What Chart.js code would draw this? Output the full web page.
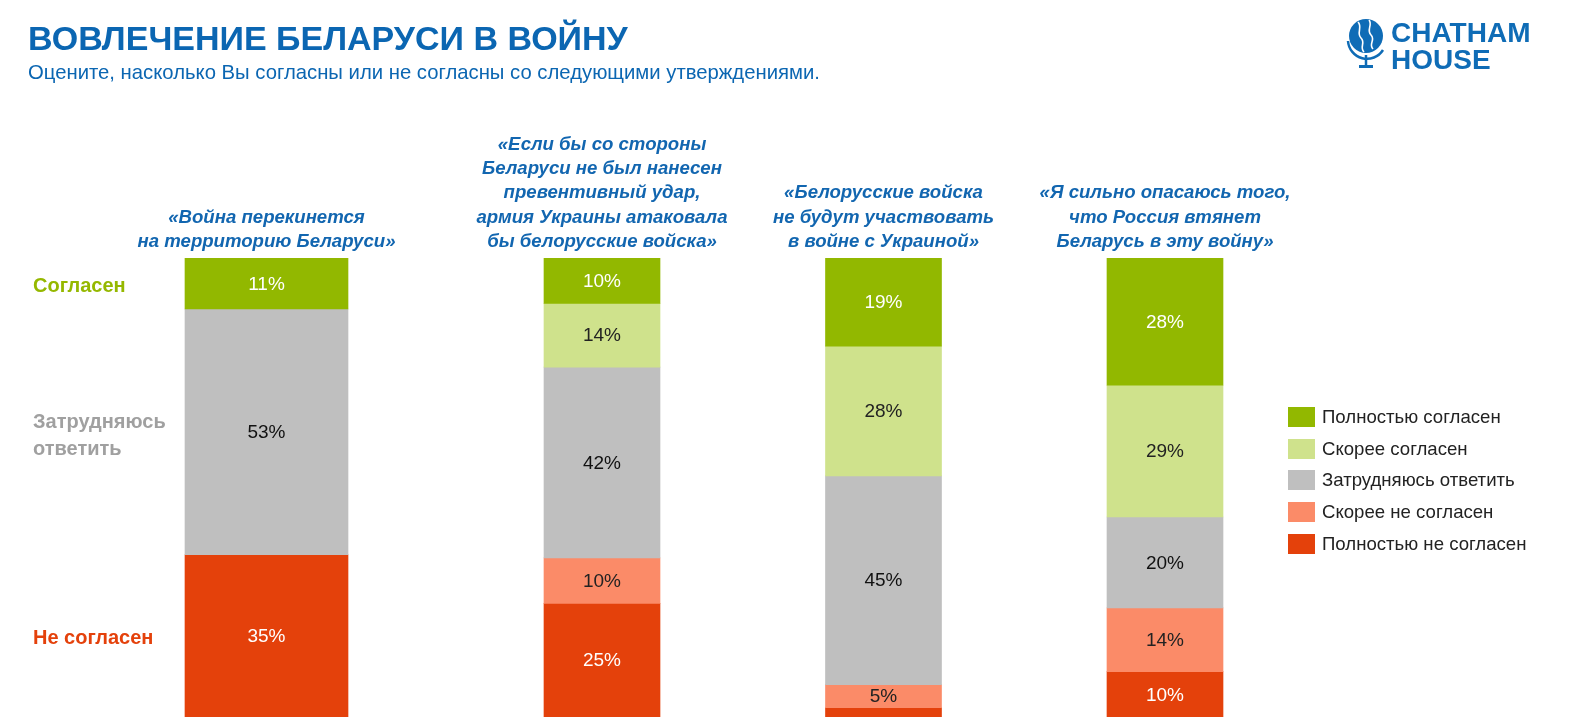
<!DOCTYPE html>
<html lang="ru">
<head>
<meta charset="utf-8">
<title>Вовлечение Беларуси в войну</title>
<script src="https://cdn.jsdelivr.net/npm/chart.js@4.4.1/dist/chart.umd.min.js"></script>
<style>
  html, body { margin: 0; padding: 0; background: #fff; }
  body { width: 1576px; height: 726px; position: relative; overflow: hidden; font-family: 'Liberation Sans', Arial, sans-serif; }
  #chart { position: absolute; left: 0; top: 0; }
  h1 { position: absolute; left: 28px; top: 21px; margin: 0; font-size: 34px; line-height: 1; font-weight: bold; color: #0b66b2; }
  .sub { position: absolute; left: 28px; top: 62px; font-size: 20.3px; line-height: 1; color: #0b66b2; }
  .side { position: absolute; left: 33px; font-weight: bold; font-size: 20px; line-height: 27px; }
  .logo { position: absolute; left: 1391px; top: 19px; font-weight: bold; font-size: 28px; line-height: 27px; color: #0f6cb6; }
  #legend { position: absolute; left: 1288px; top: 401px; }
  #legend div { height: 31.7px; display: flex; align-items: center; font-size: 18.6px; color: #222; }
  #legend i { width: 27px; height: 20px; margin-right: 7px; display: inline-block; }
</style>
</head>
<body>
<canvas id="chart" width="1576" height="726"></canvas>

<h1>ВОВЛЕЧЕНИЕ БЕЛАРУСИ В ВОЙНУ</h1>
<div class="sub">Оцените, насколько Вы согласны или не согласны со следующими утверждениями.</div>

<svg style="position:absolute;left:1344px;top:13px" width="46" height="58" viewBox="0 0 46 58">
  <circle cx="22" cy="23" r="17" fill="#0f6cb6"/>
  <path d="M14 9 C19 14 12 20 17 25 S15 34 20 39" stroke="#fff" stroke-width="1.6" fill="none"/>
  <path d="M25 7 C29 12 22 17 27 22 S24 31 29 36" stroke="#fff" stroke-width="1.6" fill="none"/>
  <path d="M4 28 A19 19 0 0 0 39 37" stroke="#0f6cb6" stroke-width="2.5" fill="none"/>
  <line x1="22" y1="42" x2="22" y2="52" stroke="#0f6cb6" stroke-width="2.5"/>
  <line x1="15" y1="53.5" x2="29" y2="53.5" stroke="#0f6cb6" stroke-width="3"/>
</svg>
<div class="logo">CHATHAM<br>HOUSE</div>

<div class="side" id="s0" style="top:272px"></div>
<div class="side" id="s1" style="top:408px;width:150px"></div>
<div class="side" id="s2" style="top:624px"></div>

<div id="legend"></div>

<script>
// --- data -------------------------------------------------------------
const questions = [
  ['«Война перекинется', 'на территорию Беларуси»'],
  ['«Если бы со стороны', 'Беларуси не был нанесен', 'превентивный удар,', 'армия Украины атаковала', 'бы белорусские войска»'],
  ['«Белорусские войска', 'не будут участвовать', 'в войне с Украиной»'],
  ['«Я сильно опасаюсь того,', 'что Россия втянет', 'Беларусь в эту войну»']
];

// first statement has only three answer groups
const q1Categories = ['Согласен', 'Затрудняюсь ответить', 'Не согласен'];
const q1Values = [11, 53, 35];

// statements 2-4, five-point scale
const seriesNames = ['Полностью согласен', 'Скорее согласен', 'Затрудняюсь ответить', 'Скорее не согласен', 'Полностью не согласен'];
const fullyAgree = [10, 19, 28];
const ratherAgree = [14, 28, 29];
const undecided = [42, 45, 20];
const ratherDisagree = [10, 5, 14];
const fullyDisagree = [25, 2, 10];

// --- layout / style ---------------------------------------------------
const FONT = "'Liberation Sans', Arial, sans-serif";
const BAR_X = [266.5, 602, 883.5, 1165];
const COL = { dkGreen: '#92b800', ltGreen: '#cfe28c', grey: '#bfbfbf', ltRed: '#fb8b68', dkRed: '#e4410b' };
const seriesColors = [COL.dkGreen, COL.ltGreen, COL.grey, COL.ltRed, COL.dkRed];
const seriesText = ['#fff', '#222', '#111', '#222', '#fff'];
const q1Colors = [COL.dkGreen, COL.grey, COL.dkRed];
const q1Text = ['#fff', '#111', '#fff'];
const sideColors = ['#95b800', '#a0a0a0', '#e4410b'];

// bars are drawn as 100% stacks; labels keep the published numbers
const q1Total = q1Values.reduce((a, b) => a + b, 0);
const series = [fullyAgree, ratherAgree, undecided, ratherDisagree, fullyDisagree];
const totals = fullyAgree.map((_, i) => series.reduce((s, arr) => s + arr[i], 0));

const datasets = [];
q1Values.forEach((v, k) => {
  datasets.push({
    label: q1Categories[k],
    data: [{ x: BAR_X[0], y: v / q1Total * 100 }],
    values: [v],
    backgroundColor: q1Colors[k],
    labelColor: q1Text[k],
    barThickness: 163
  });
});
series.forEach((arr, k) => {
  datasets.push({
    label: seriesNames[k],
    data: arr.map((v, i) => ({ x: BAR_X[i + 1], y: v / totals[i] * 100 })),
    values: arr,
    backgroundColor: seriesColors[k],
    labelColor: seriesText[k],
    barThickness: 116
  });
});

// percentage text in the middle of each segment (tiny ones stay blank)
const valueLabels = {
  id: 'valueLabels',
  afterDatasetsDraw(chart) {
    const ctx = chart.ctx;
    ctx.save();
    ctx.font = '19px ' + FONT;
    ctx.textAlign = 'center';
    ctx.textBaseline = 'middle';
    chart.data.datasets.forEach((ds, di) => {
      chart.getDatasetMeta(di).data.forEach((bar, i) => {
        const v = ds.values[i];
        if (v < 4) return;
        ctx.fillStyle = ds.labelColor;
        ctx.fillText(v + '%', bar.x, (bar.y + bar.base) / 2 + 1);
      });
    });
    ctx.restore();
  }
};

new Chart(document.getElementById('chart'), {
  type: 'bar',
  data: { datasets },
  options: {
    responsive: false,
    animation: false,
    layout: { padding: { top: 0, bottom: 9, left: 0, right: 0 } },
    plugins: { legend: { display: false }, tooltip: { enabled: true } },
    scales: {
      x: {
        type: 'linear', position: 'top', stacked: true, min: 0, max: 1576, offset: false,
        grid: { display: false, drawTicks: false }, border: { display: false },
        afterBuildTicks: (s) => { s.ticks = BAR_X.map(v => ({ value: v })); },
        afterFit: (s) => { s.height = 258; s.paddingLeft = 0; s.paddingRight = 0; },
        ticks: {
          autoSkip: false, maxRotation: 0, minRotation: 0, padding: 4,
          color: '#1266b0',
          font: { family: FONT, size: 18.6, weight: 'bold', style: 'italic', lineHeight: '24.3px' },
          callback: (v, i) => questions[i]
        }
      },
      y: { display: false, stacked: true, reverse: true, min: 0, max: 100 }
    }
  },
  plugins: [valueLabels]
});

// side labels for the first statement and the legend
q1Categories.forEach((c, k) => {
  const el = document.getElementById('s' + k);
  el.textContent = c;
  el.style.color = sideColors[k];
});
document.getElementById('legend').innerHTML = seriesNames
  .map((n, k) => `<div><i style="background:${seriesColors[k]}"></i>${n}</div>`).join('');
</script>
</body>
</html>
